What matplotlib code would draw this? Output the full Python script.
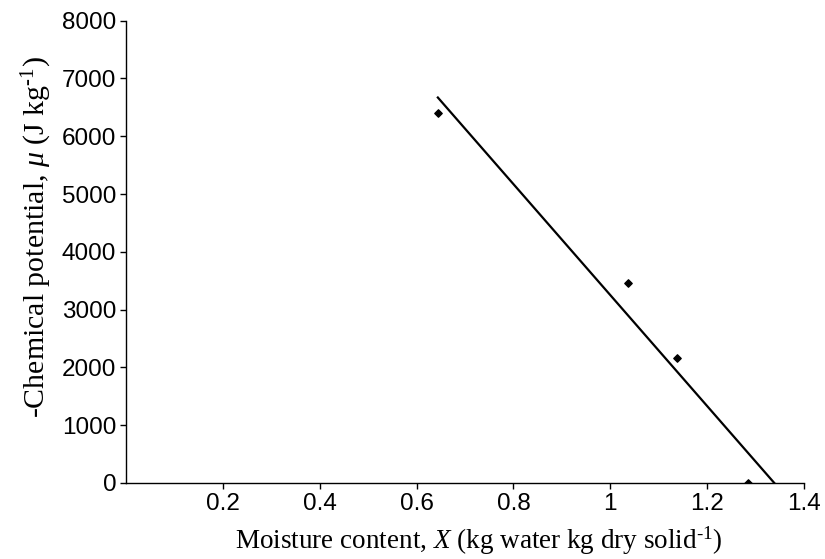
import matplotlib

matplotlib.use("Agg")
import matplotlib.pyplot as plt
import numpy as np

# measured points
moisture = np.array([0.644, 1.037, 1.138, 1.284])
chem_potential = np.array([6400, 3460, 2160, 0])

x_ticks = [0.2, 0.4, 0.6, 0.8, 1.0, 1.2, 1.4]
x_tick_labels = ["0.2", "0.4", "0.6", "0.8", "1", "1.2", "1.4"]
y_ticks = [0, 1000, 2000, 3000, 4000, 5000, 6000, 7000, 8000]

plt.rcParams["font.family"] = ["Liberation Sans", "DejaVu Sans"]
plt.rcParams["mathtext.fontset"] = "custom"
plt.rcParams["mathtext.rm"] = "Liberation Serif"
plt.rcParams["mathtext.it"] = "Liberation Serif:italic"

fig = plt.figure(figsize=(8.25, 5.59), dpi=100)
ax = fig.add_axes([0.1527, 0.136, 0.8218, 0.827])

ax.scatter(moisture, chem_potential, marker="D", s=14, color="black", zorder=3)

# linear trend line, extended to where it hits zero
slope, intercept = np.polyfit(moisture, chem_potential, 1)
x_end = -intercept / slope
xs = np.array([moisture.min(), x_end])
ax.plot(xs, slope * xs + intercept, color="black", linewidth=1.6)

ax.set_xlim(0, 1.4)
ax.set_ylim(0, 8000)
ax.set_xticks(x_ticks)
ax.set_xticklabels(x_tick_labels)
ax.set_yticks(y_ticks)
ax.tick_params(labelsize=17.5, length=4, width=1, direction="out", colors="black", pad=3)
for s in ["top", "right"]:
    ax.spines[s].set_visible(False)
for s in ["left", "bottom"]:
    ax.spines[s].set_linewidth(1)

ax.set_xlabel(r"Moisture content, $X$ (kg water kg dry solid$^{\text{-1}}$)",
              family="Liberation Serif", fontsize=19.5, labelpad=7)
ax.xaxis.label.set_x(0.52)
ax.set_ylabel(r"-Chemical potential, $\mu$ (J kg$^{\text{-1}}$)",
              family="Liberation Serif", fontsize=21.5, labelpad=6)
ax.yaxis.label.set_y(0.532)

fig.savefig("out.png", dpi=100)
